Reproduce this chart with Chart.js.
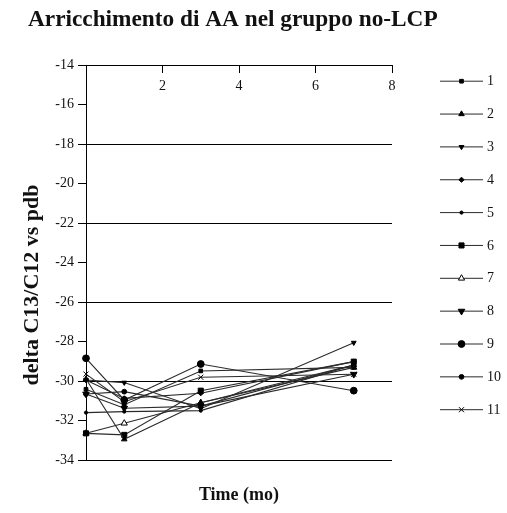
<!DOCTYPE html>
<html>
<head>
<meta charset="utf-8">
<script src="https://cdn.jsdelivr.net/npm/chart.js@4.4.1/dist/chart.umd.min.js"></script>
<style>
html,body{margin:0;padding:0;background:#fff;}
#wrap{width:507px;height:513px;position:relative;}
</style>
</head>
<body>
<div id="wrap"><canvas id="c" width="507" height="513"></canvas></div>
<script>
const chartTitle = "Arricchimento di AA nel gruppo no-LCP";
const xTitle = "Time (mo)";
const yTitle = "delta C13/C12 vs pdb";
const times = [0, 1, 3, 7];
const seriesLabels = ["1","2","3","4","5","6","7","8","9","10","11"];
const s1  = [-30.42, -31.20, -29.49, -29.31];
const s2  = [-29.90, -32.95, -31.10, -29.19];
const s3  = [-29.95, -30.08, -31.40, -28.06];
const s4  = [-29.95, -30.88, -30.62, -29.02];
const s5  = [-31.60, -31.55, -31.50, -29.19];
const s6  = [-32.65, -32.73, -30.49, -29.02];
const s7  = [-32.65, -32.14, -31.10, -29.31];
const s8  = [-30.66, -31.38, -31.27, -29.66];
const s9  = [-28.85, -30.96, -29.14, -30.49];
const s10 = [-30.66, -30.54, -31.27, -29.19];
const s11 = [-29.65, -31.05, -29.81, -29.66];
const seriesValues = [s1,s2,s3,s4,s5,s6,s7,s8,s9,s10,s11];
const yTicksMin = -34, yTicksMax = -14, yStep = 2;
const xTicksMin = 0, xTicksMax = 8, xStep = 2;

const markerStyles = [
  {ps:'rect', r:2.6, rot:0, fill:'#000'},
  {ps:'triangle', r:3.2, rot:0, fill:'#000'},
  {ps:'triangle', r:2.8, rot:180, fill:'#000'},
  {ps:'rectRot', r:2.6, rot:0, fill:'#000'},
  {ps:'circle', r:1.6, rot:0, fill:'#000'},
  {ps:'rect', r:3.6, rot:0, fill:'#000'},
  {ps:'triangle', r:3.6, rot:0, fill:'#fff'},
  {ps:'triangle', r:3.8, rot:180, fill:'#000'},
  {ps:'circle', r:3.4, rot:0, fill:'#000'},
  {ps:'circle', r:2.4, rot:0, fill:'#000'},
  {ps:'crossRot', r:3.6, rot:0, fill:'#000'}
];

const datasets = seriesValues.map((vals, i) => ({
  label: seriesLabels[i],
  data: vals.map((v, j) => ({x: times[j], y: v})),
  borderColor: '#2a2a2a',
  borderWidth: 1.1,
  pointStyle: markerStyles[i].ps,
  pointRadius: markerStyles[i].r,
  pointRotation: markerStyles[i].rot,
  pointBackgroundColor: markerStyles[i].fill,
  pointBorderColor: '#000',
  pointBorderWidth: 1,
  tension: 0,
  fill: false,
  clip: false
}));

const SERIF = '"Liberation Serif", "Times New Roman", serif';

function drawMarker(ctx, st, x, y) {
  const opts = {pointStyle: st.ps, rotation: st.rot, radius: st.r, borderWidth: 1};
  ctx.save();
  ctx.fillStyle = st.fill;
  ctx.strokeStyle = '#000';
  ctx.lineWidth = 1;
  if (Chart.helpers && Chart.helpers.drawPoint) {
    Chart.helpers.drawPoint(ctx, opts, x, y);
  } else {
    ctx.beginPath(); ctx.arc(x, y, st.r, 0, Math.PI*2); ctx.fill(); ctx.stroke();
  }
  ctx.restore();
}

const decor = {
  id: 'decor',
  afterDraw(chart) {
    const ctx = chart.ctx;
    ctx.save();
    ctx.fillStyle = '#111';
    // title
    ctx.font = 'bold 23.3px ' + SERIF;
    ctx.textAlign = 'left';
    ctx.textBaseline = 'alphabetic';
    ctx.fillText(chartTitle, 28, 26);
    // x title
    const ca = chart.chartArea;
    ctx.font = 'bold 18px ' + SERIF;
    ctx.textAlign = 'center';
    ctx.fillText(xTitle, (ca.left + ca.right) / 2, 500);
    // y title
    ctx.save();
    ctx.translate(38, 285);
    ctx.rotate(-Math.PI / 2);
    ctx.font = 'bold 22px ' + SERIF;
    ctx.textAlign = 'center';
    ctx.textBaseline = 'alphabetic';
    ctx.fillText(yTitle, 0, 0);
    ctx.restore();
    // legend
    ctx.font = '14px ' + SERIF;
    ctx.textAlign = 'left';
    ctx.textBaseline = 'middle';
    chart.data.datasets.forEach((ds, i) => {
      const y = 80.7 + i * 32.85;
      ctx.strokeStyle = '#2a2a2a';
      ctx.lineWidth = 1;
      ctx.beginPath();
      ctx.moveTo(440, y + 0.5);
      ctx.lineTo(483, y + 0.5);
      ctx.stroke();
      drawMarker(ctx, markerStyles[i], 461.5, y + 0.5);
      ctx.fillStyle = '#111';
      ctx.fillText(ds.label, 487, y + 1);
    });
    ctx.restore();
  }
};

new Chart(document.getElementById('c'), {
  type: 'line',
  data: { datasets },
  options: {
    responsive: false,
    animation: false,
    events: [],
    layout: { padding: { left: 0, right: 115, top: 0, bottom: 53 } },
    plugins: { legend: { display: false }, title: { display: false }, tooltip: { enabled: false } },
    scales: {
      x: {
        type: 'linear',
        position: 'top',
        min: xTicksMin, max: xTicksMax,
        ticks: {
          stepSize: xStep,
          color: '#111',
          font: { family: SERIF, size: 14 },
          padding: 13,
          mirror: true,
          maxRotation: 0,
          autoSkip: false,
          callback: v => v === 0 ? '' : String(v)
        },
        grid: { drawOnChartArea: false, tickLength: -8, color: '#000', tickColor: '#000' },
        border: { color: '#000', width: 1 },
        afterFit(scale) { scale.height = 65; }
      },
      y: {
        type: 'linear',
        position: 'left',
        min: yTicksMin, max: yTicksMax,
        ticks: {
          stepSize: yStep,
          color: '#111',
          font: { family: SERIF, size: 14 },
          padding: 4,
          callback: v => String(v)
        },
        grid: {
          tickLength: 8,
          tickColor: '#000',
          color: c => (c.tick && ((-c.tick.value - 18) % 4 === 0) && c.tick.value <= -18) ? '#000' : 'rgba(0,0,0,0)'
        },
        border: { color: '#000', width: 1 },
        afterFit(scale) { scale.width = 86; }
      }
    }
  },
  plugins: [decor]
});
</script>
</body>
</html>
